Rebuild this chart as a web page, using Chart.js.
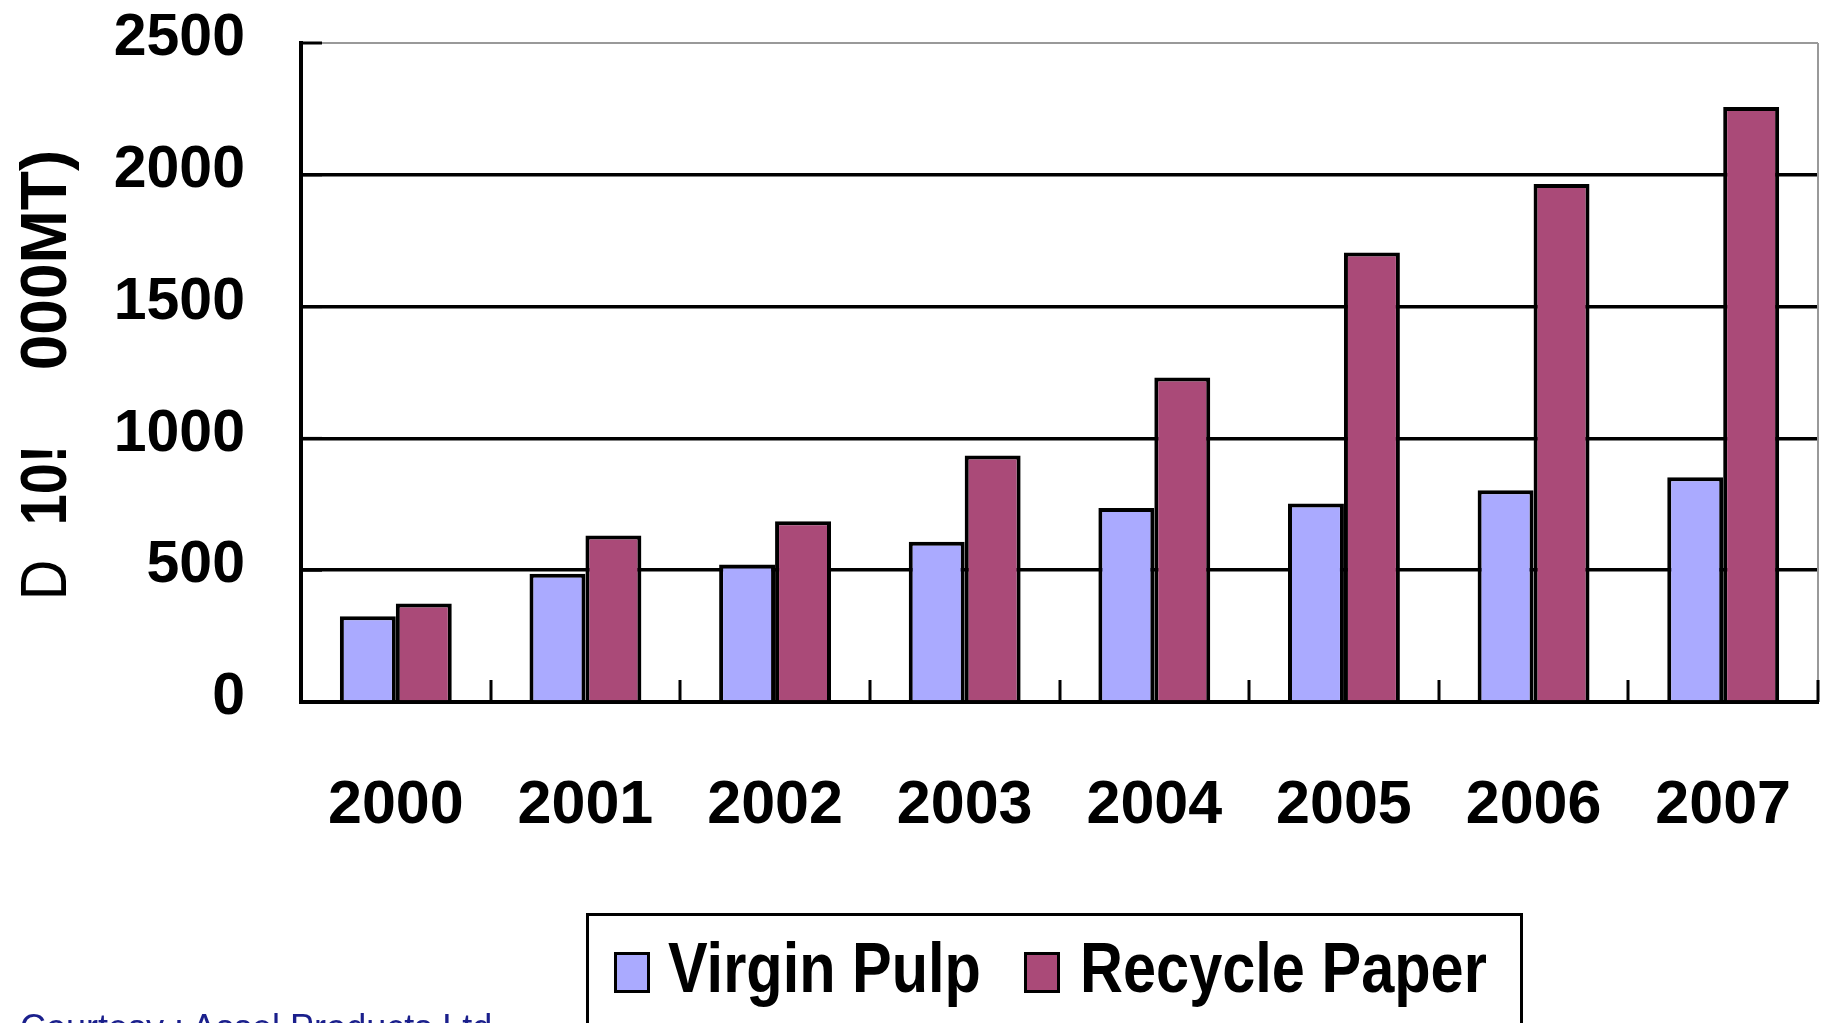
<!DOCTYPE html>
<html>
<head>
<meta charset="utf-8">
<script src="https://cdn.jsdelivr.net/npm/chart.js@4.4.0/dist/chart.umd.min.js"></script>
<style>
  html, body { margin:0; padding:0; background:#fff; overflow:hidden; }
  #wrap { position:relative; width:1825px; height:1023px; }
  #chart { position:absolute; left:0; top:0; }
  #legend { position:absolute; left:586px; top:913px; width:937px; height:200px;
            border:3px solid #000; box-sizing:border-box; }
  .item-box { position:absolute; width:36px; height:41px; border:3px solid #000; box-sizing:border-box; }
  .item-text { position:absolute; font:bold 70px "Liberation Sans", Arial, sans-serif; line-height:1;
               white-space:nowrap; transform:scaleX(0.85); transform-origin:left top; color:#000; }
  #credit { position:absolute; left:20px; top:1010px; font:36px "Liberation Sans", Arial, sans-serif;
            line-height:1; color:#1a1f8c; white-space:nowrap; }
</style>
</head>
<body>
<div id="wrap">
  <canvas id="chart" width="1825" height="1023"></canvas>
  <div id="legend"></div>
  <div id="credit">Courtesy : Assel Products Ltd</div>
</div>
<script>
// Données
const years = ["2000","2001","2002","2003","2004","2005","2006","2007"];
const virginPulp = [325, 487, 522, 608, 736, 753, 803, 853];
const recyclePaper = [374, 632, 686, 935, 1231, 1705, 1965, 2257];
const yTicks = [0, 500, 1000, 1500, 2000, 2500];

const FONT = '"Liberation Sans", Arial, sans-serif';

// petits traits intérieurs + bord droit gris + titre de l'axe Y
const frame = {
  id: 'frame',
  afterDraw(chart){
    const { ctx, chartArea: a, scales: { x, y } } = chart;
    ctx.save();
    // bord droit
    ctx.strokeStyle = "#999";
    ctx.lineWidth = 2;
    ctx.beginPath();
    ctx.moveTo(a.right, a.top); ctx.lineTo(a.right, a.bottom);
    ctx.stroke();
    // graduations X entre les catégories
    ctx.strokeStyle = "#000";
    ctx.lineWidth = 3;
    const step = x.getPixelForValue(1) - x.getPixelForValue(0);
    for(let i=0;i<years.length;i++){
      const px = Math.round(x.getPixelForValue(i) + step/2);
      ctx.beginPath();
      ctx.moveTo(px, a.bottom); ctx.lineTo(px, a.bottom - 22);
      ctx.stroke();
    }
    // graduations Y
    yTicks.forEach(function(v){
      const py = y.getPixelForValue(v);
      ctx.beginPath();
      ctx.moveTo(a.left, py); ctx.lineTo(a.left + 21, py);
      ctx.stroke();
    });
    // titre de l'axe
    ctx.translate(46, 0);
    ctx.rotate(-Math.PI/2);
    ctx.fillStyle = "#000";
    ctx.textAlign = "center";
    ctx.textBaseline = "middle";
    ctx.font = "64px " + FONT;
    ctx.save(); ctx.translate(-580, 0); ctx.scale(0.87, 1); ctx.fillText("D", 0, 2); ctx.restore();
    ctx.font = "bold 64px " + FONT;
    ctx.save(); ctx.translate(-485, 0); ctx.scale(0.87, 1); ctx.fillText("10!", 0, 2); ctx.restore();
    ctx.save(); ctx.translate(-260, 0); ctx.fillText("000MT)", 0, 2); ctx.restore();
    ctx.restore();
  }
};

const chart = new Chart(document.getElementById("chart"), {
  type: "bar",
  data: {
    labels: years,
    datasets: [
      { label: "Virgin Pulp", data: virginPulp, backgroundColor: "#aaaaff",
        borderColor: "#000", borderWidth: 4 },
      { label: "Recycle Paper", data: recyclePaper, backgroundColor: "#aa4a78",
        borderColor: "#000", borderWidth: 4 }
    ]
  },
  options: {
    responsive: false,
    animation: false,
    layout: { padding: { top: 43, right: 7, left: 0, bottom: 0 } },
    datasets: { bar: { categoryPercentage: 0.59, barPercentage: 1 } },
    plugins: { legend: { display: false }, tooltip: { enabled: false } },
    scales: {
      x: {
        grid: { display: false, drawTicks: false },
        border: { display: true, color: "#000", width: 4 },
        ticks: { color: "#000", padding: 68, font: { family: FONT, size: 61, weight: "bold" } },
        afterFit(scale){ scale.height = 321; scale.paddingLeft = 0; scale.paddingRight = 0; }
      },
      y: {
        min: 0, max: 2500,
        afterBuildTicks(scale){ scale.ticks = yTicks.map(v => ({ value: v })); },
        grid: {
          drawTicks: false,
          color: ctx => ctx.tick && ctx.tick.value === 2500 ? "#999" : "#000",
          lineWidth: ctx => ctx.tick && ctx.tick.value === 2500 ? 2 : 3.5
        },
        border: { display: true, color: "#000", width: 4 },
        ticks: { color: "#000", padding: 56, labelOffset: -4,
                 callback: v => String(v),
                 font: { family: FONT, size: 59, weight: "bold" } },
        afterFit(scale){ scale.width = 301; scale.paddingTop = 0; scale.paddingBottom = 0; }
      }
    }
  },
  plugins: [frame]
});

// légende encadrée sous le graphique
const legend = document.getElementById("legend");
const spots = [ { box: 25, text: 79 }, { box: 435, text: 491 } ];
chart.data.datasets.forEach(function(ds, i){
  const b = document.createElement("div");
  b.className = "item-box";
  b.style.left = spots[i].box + "px";
  b.style.top = "36px";
  b.style.background = ds.backgroundColor;
  legend.appendChild(b);
  const t = document.createElement("div");
  t.className = "item-text";
  t.style.left = spots[i].text + "px";
  t.style.top = "17px";
  t.textContent = ds.label;
  legend.appendChild(t);
});
</script>
</body>
</html>
